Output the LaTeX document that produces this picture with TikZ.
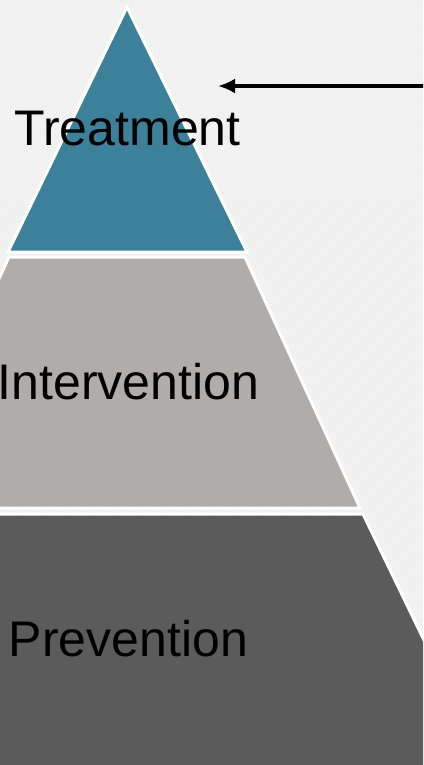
\documentclass[tikz,border=0pt]{standalone}
\usepackage{xcolor}
\usepackage{fontspec}
\setmainfont{Liberation Sans}
\usepackage{tikz}
\usetikzlibrary{arrows.meta, patterns}

\definecolor{TopTeal}{RGB}{60,128,153}
\definecolor{MidGray}{RGB}{176,172,170}
\definecolor{BaseGray}{RGB}{91,91,91}
\definecolor{Backdrop}{RGB}{236,236,236}

\begin{document}
\begin{tikzpicture}[x=1pt, y=-1pt,
        layer/.style={draw=white, line width=3pt, line join=miter},
        lbl/.style={anchor=base, font=\fontsize{50}{60}\selectfont, text=black, inner sep=0pt}]
        \useasboundingbox (0,0) rectangle (423,765);
        \clip (0,0) rectangle (423,765);

        \fill [Backdrop] (0,0) rectangle (423,765);
        \fill [pattern=north east lines, pattern color=white] (0,0) rectangle (423,765);

        \filldraw [layer, fill=BaseGray] (-109,514) -- (363,514) -- (494,785) -- (-240,785) -- cycle;
        \filldraw [layer, fill=MidGray] (-106,508) -- (360,508) -- (245,257) -- (9,257) -- cycle;
        \filldraw [layer, fill=TopTeal] (127,7) -- (247,252) -- (8,252) -- cycle;

        \node[lbl] (treat) at (127.5,145) {Treatment};
        \node[lbl] (interv) at (128.5,399) {Intervention};
        \node[lbl] (prevent) at (128.5,656) {Prevention};

        \coordinate (arrowfrom) at (430,86);
        \coordinate (arrowto) at (218,86);
        \draw [-{Latex[length=17pt, width=15pt]}, line width=4pt, black!25, opacity=0.5, shift={(1,2)}] (arrowfrom) -- (arrowto);
        \draw [-{Latex[length=17pt, width=15pt]}, line width=4pt] (arrowfrom) -- (arrowto);
    \end{tikzpicture}
\end{document}
